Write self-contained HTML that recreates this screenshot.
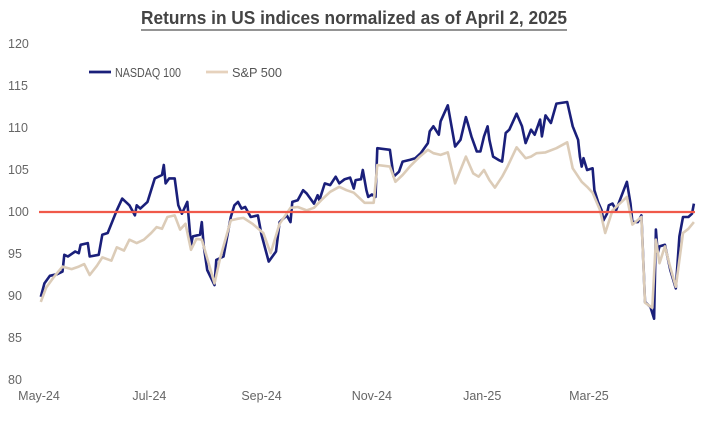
<!DOCTYPE html>
<html><head><meta charset="utf-8"><style>
body{margin:0;background:#fff;}
svg{display:block;font-family:"Liberation Sans",sans-serif;}
</style></head><body>
<svg id="chart" width="708" height="439" viewBox="0 0 708 439">
<text x="354" y="24" text-anchor="middle" font-size="18" font-weight="bold" fill="#444" textLength="426" lengthAdjust="spacingAndGlyphs">Returns in US indices normalized as of April 2, 2025</text>
<line x1="141" y1="30" x2="567" y2="30" stroke="#555" stroke-width="1.2"/>
<g>
<g><line x1="89" y1="72" x2="111" y2="72" stroke="#1a1f7a" stroke-width="2.8"/><text x="115" y="77" font-size="12.5" fill="#555" textLength="66" lengthAdjust="spacingAndGlyphs">NASDAQ 100</text></g>
<g><line x1="206" y1="72" x2="228" y2="72" stroke="#e6d2bd" stroke-width="2.8"/><text x="232" y="77" font-size="12.5" fill="#555" textLength="50" lengthAdjust="spacingAndGlyphs">S&amp;P 500</text></g>
</g>
<g id="yaxis"></g>
<g id="xaxis"></g>
<g id="series"></g>
</svg>
<script>
const yTicks=[80,85,90,95,100,105,110,115,120];
const xLabels=["May-24","Jul-24","Sep-24","Nov-24","Jan-25","Mar-25"];
const xLabelDays=[0,61,123,184,245,304];
const ndDays=[1,3,6,10,13,14,16,20,22,23,27,28,33,35,38,43,46,50,53,54,56,60,64,68,69,70,72,75,77,79,82,84,85,89,90,91,93,97,98,102,106,108,110,112,114,117,121,123,127,131,133,137,139,140,143,146,148,152,154,155,158,161,164,166,169,172,174,175,178,179,181,182,184,186,187,194,196,199,201,205,208,211,215,216,218,221,222,226,230,233,236,237,239,242,244,246,248,249,251,254,256,258,260,264,267,269,272,274,277,278,280,283,286,292,295,298,299,300,301,303,306,307,309,311,312,314,315,317,319,320,325,327,328,331,333,335,338,340,341,342,343,346,349,352,354,356,359,361,362];
const ndVals=[89.9,91.5,92.4,92.6,92.9,94.9,94.7,95.3,95.1,96.1,96.3,94.7,94.9,97.3,97.5,100.2,101.6,100.8,99.6,100.8,100.4,101.2,104.0,104.4,105.6,103.4,104.0,104.0,100.8,99.8,101.2,96.1,97.1,97.3,98.8,96.1,93.1,91.3,94.3,94.7,99.4,100.8,101.2,100.4,100.6,99.4,99.6,97.3,94.1,95.3,98.8,99.6,98.8,101.2,101.4,102.6,102.2,101.0,102.0,101.4,103.4,103.2,104.2,103.4,103.9,104.1,102.8,103.8,103.9,105.0,102.6,101.8,102.1,101.8,107.6,107.4,104.2,104.8,106.0,106.2,106.4,107.0,108.2,109.6,110.2,109.2,110.8,112.7,107.8,108.6,111.3,110.6,109.0,107.2,107.2,109.0,110.2,108.6,106.6,106.2,106.0,109.4,109.8,111.7,110.2,108.2,109.8,109.2,111.0,109.0,111.5,110.6,112.9,113.1,110.2,108.6,106.6,105.4,106.4,105.0,105.2,102.6,101.2,100.2,99.0,99.8,100.8,101.0,100.2,100.8,103.6,101.0,98.8,98.8,99.6,89.3,88.7,87.3,97.9,95.1,95.9,96.1,93.1,90.9,97.1,99.4,99.4,99.8,101.0];
const spDays=[1,4,8,13,18,22,25,28,32,35,40,43,47,50,54,58,62,65,68,71,75,78,81,84,87,90,93,97,100,106,110,113,118,124,128,133,139,143,148,152,156,161,166,170,174,180,185,187,194,197,201,205,210,215,218,222,226,230,233,236,240,243,246,249,252,256,259,264,269,272,275,280,286,292,295,300,303,306,310,313,317,320,325,328,333,335,339,341,343,346,349,352,356,359,362];
const spVals=[89.3,91.0,92.2,93.5,93.2,93.5,93.8,92.5,93.6,94.6,94.2,95.8,95.4,96.7,96.3,96.7,97.5,98.2,98.0,99.4,99.6,97.9,98.6,95.5,96.8,96.7,94.5,91.5,94.4,99.0,99.2,99.3,98.6,97.5,95.1,98.6,100.5,100.6,100.2,100.5,101.4,102.4,103.0,102.6,102.3,101.1,101.1,105.6,105.4,103.6,104.4,105.4,106.5,107.4,107.0,106.8,107.1,103.4,105.0,106.6,104.6,104.2,105.0,103.8,102.9,104.2,105.4,107.7,106.4,106.6,107.0,107.1,107.6,108.3,105.2,103.6,103.0,102.3,100.3,97.5,100.2,100.8,101.8,98.5,99.4,89.2,88.6,96.7,93.9,95.9,93.4,91.1,97.5,98.0,98.8];
const refValue=100;

const NS="http://www.w3.org/2000/svg";
const X0=39,PXD=1.809,XEND=695;
function xs(d){return X0+d*PXD;}
function ys(v){return 212-(v-100)*8.4;}
function mk(tag,attrs,parent){const e=document.createElementNS(NS,tag);for(const k in attrs)e.setAttribute(k,attrs[k]);parent.appendChild(e);return e;}
const yg=document.getElementById('yaxis'),xg=document.getElementById('xaxis'),sg=document.getElementById('series');
yTicks.forEach(t=>{
  const el=mk('text',{x:8,y:ys(t)+4,'font-size':12.5,fill:'#666'},yg);
  el.textContent=t;
  
  
});
xLabels.forEach((l,i)=>{
  const el=mk('text',{x:xs(xLabelDays[i]),y:400,'font-size':12.5,fill:'#666','text-anchor':'middle'},xg);
  el.textContent=l;
  
  
});
function path(days,vals){return days.map((d,i)=>(i?'L':'M')+xs(d).toFixed(1)+','+ys(vals[i]).toFixed(1)).join('');}
const nd=mk('path',{d:path(ndDays,ndVals),fill:'none',stroke:'#1a1f7a','stroke-width':2.6,'stroke-linejoin':'round'},sg);


const sp=mk('path',{d:path(spDays,spVals),fill:'none',stroke:'#dcccb8','stroke-width':2.6,'stroke-linejoin':'round'},sg);


const rl=mk('line',{x1:X0,x2:XEND,y1:ys(refValue),y2:ys(refValue),stroke:'#f0594a','stroke-width':2.2},sg);


</script>
</body></html>
